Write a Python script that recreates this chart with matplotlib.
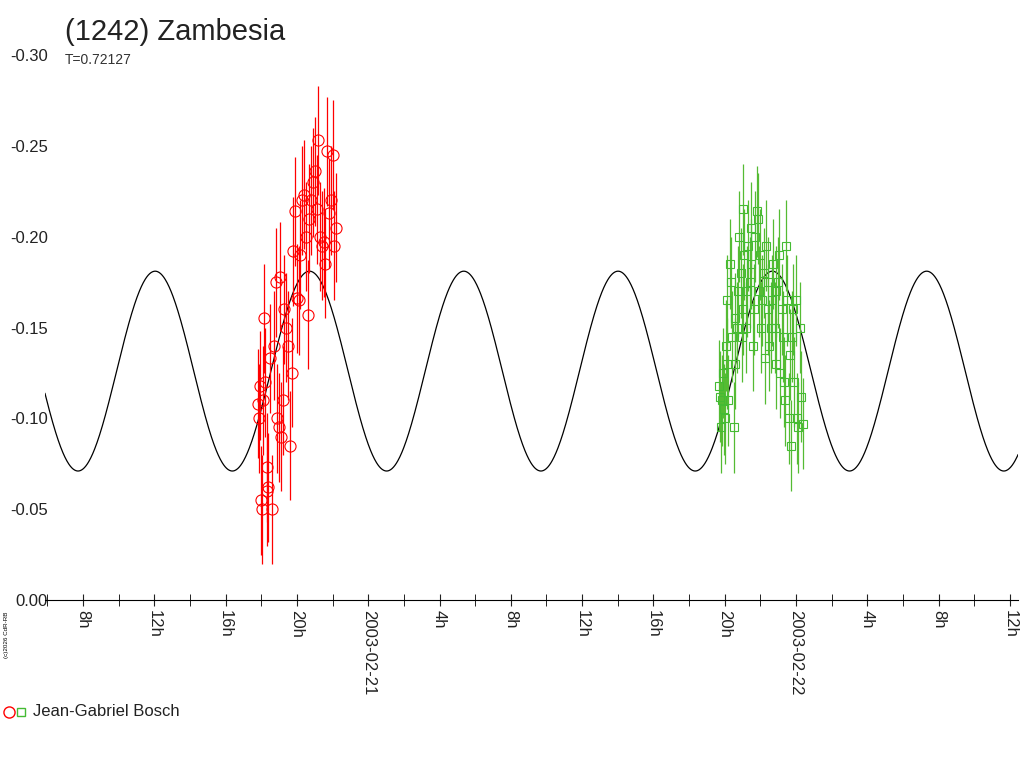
import numpy as np
import matplotlib
matplotlib.use("Agg")
import matplotlib.pyplot as plt
from matplotlib.ticker import FixedLocator, FuncFormatter
from matplotlib.lines import Line2D

plt.rcParams['font.family'] = ['Liberation Sans', 'DejaVu Sans']

# hours since 2003-02-20 00:00 UT
red_t = [17.84,17.9,17.95,18.0,18.05,18.1,18.15,18.2,18.3,18.35,18.4,18.5,18.6,18.7,18.8,18.9,19.0,19.05,
         19.1,19.2,19.3,19.4,19.5,19.6,19.7,19.8,19.9,20.0,20.1,20.2,20.3,20.4,20.5,20.6,20.7,20.8,20.9,
         21.0,21.1,21.2,21.3,21.4,21.5,21.6,21.7,21.8,21.9,22.0,22.1,22.2]
red_y = [-0.108,-0.100,-0.118,-0.055,-0.050,-0.110,-0.155,-0.120,-0.060,-0.073,-0.062,-0.133,-0.050,-0.140,
         -0.175,-0.100,-0.095,-0.178,-0.090,-0.110,-0.160,-0.150,-0.140,-0.085,-0.125,-0.192,-0.214,-0.166,
         -0.165,-0.190,-0.220,-0.223,-0.200,-0.157,-0.210,-0.220,-0.230,-0.236,-0.215,-0.253,-0.200,-0.195,
         -0.197,-0.185,-0.247,-0.213,-0.220,-0.245,-0.195,-0.205]
red_e = 0.03

grn_t = [43.70,43.75,43.8,43.85,43.9,43.95,44.0,44.05,44.1,44.15,44.2,44.3,44.35,44.4,44.5,44.55,44.6,44.7,
         44.75,44.8,44.9,44.95,45.0,45.05,45.1,45.2,45.25,45.3,45.4,45.45,45.5,45.6,45.65,45.7,45.8,45.85,
         45.9,46.0,46.05,46.1,46.2,46.25,46.3,46.4,46.45,46.5,46.6,46.65,46.7,46.8,46.85,46.9,47.0,47.05,
         47.1,47.2,47.25,47.3,47.4,47.45,47.5,47.6,47.65,47.7,47.8,47.85,47.9,48.0,48.05,48.1,48.2,48.3,48.4]
grn_y = [-0.118,-0.112,-0.095,-0.110,-0.125,-0.105,-0.100,-0.140,-0.165,-0.130,-0.110,-0.185,-0.175,-0.145,
         -0.095,-0.155,-0.130,-0.150,-0.170,-0.200,-0.180,-0.145,-0.160,-0.215,-0.190,-0.150,-0.170,-0.195,
         -0.175,-0.205,-0.185,-0.140,-0.160,-0.200,-0.214,-0.210,-0.170,-0.190,-0.150,-0.165,-0.180,-0.133,
         -0.195,-0.160,-0.175,-0.140,-0.150,-0.165,-0.185,-0.150,-0.170,-0.130,-0.175,-0.190,-0.125,-0.160,
         -0.145,-0.120,-0.110,-0.195,-0.165,-0.100,-0.135,-0.085,-0.145,-0.160,-0.120,-0.165,-0.100,-0.095,
         -0.150,-0.112,-0.097]
grn_e = 0.025

period_h = 0.72127 * 24
mean_mag, amp, t_peak = -0.126, 0.055, 12.05

fig = plt.figure(figsize=(10.24, 7.68), dpi=100)
ax = fig.add_axes([45/1024, 1-600/768, (1018-45)/1024, (600-55)/768])
t = np.linspace(5.87, 60.45, 2000)
ax.plot(t, mean_mag - amp*np.cos(4*np.pi*(t - t_peak)/period_h), color='black', lw=0.9)

ax.errorbar(red_t, red_y, yerr=red_e, fmt='o', ms=8, mfc='none', mec='red', ecolor='red', elinewidth=0.9, mew=0.8)
ax.errorbar(grn_t, grn_y, yerr=grn_e, fmt='s', ms=6, mfc='none', mec='#44bb33', ecolor='#55bb33', elinewidth=0.9, mew=0.8)

ax.set_xlim(5.87, 60.45)
ax.set_ylim(0, -0.30)
ax.set_yticks([0, -0.05, -0.10, -0.15, -0.20, -0.25, -0.30])
ax.yaxis.set_major_formatter(FuncFormatter(lambda v, p: f"{v:.2f}" if abs(v) > 1e-9 else "0.00"))
majors = list(range(8, 61, 4))
def xl(v, p):
    h = int(round(v)) % 24
    if h == 0:
        return "2003-02-%02d" % (20 + int(round(v)) // 24)
    return f"{h}h"
ax.xaxis.set_major_locator(FixedLocator(majors))
ax.xaxis.set_major_formatter(FuncFormatter(xl))
ax.xaxis.set_minor_locator(FixedLocator(list(range(6, 61, 2))))
ax.tick_params(axis='x', which='major', rotation=-90, labelsize=12, length=8, direction='inout', colors='#222222')
ax.tick_params(axis='x', which='minor', length=8, direction='inout')
ax.tick_params(axis='y', labelsize=12, length=0, pad=-2, colors='#222222')
for s in ['top', 'right', 'left']:
    ax.spines[s].set_visible(False)

fig.text(65/1024, 1-32/768, "(1242) Zambesia", fontsize=21, va='center', color='#222222')
fig.text(65/1024, 1-60/768, "T=0.72127", fontsize=10, va='center', color='#333333')
fig.text(4/1024, 1-635/768, "(c)2026 CdR-RB", fontsize=4.5, rotation=90, va='center')
fig.add_artist(Line2D([9/1024], [1-712/768], marker='o', ms=8, mfc='none', mec='red', ls='none', transform=fig.transFigure))
fig.add_artist(Line2D([21/1024], [1-712/768], marker='s', ms=6, mfc='none', mec='#44bb33', ls='none', transform=fig.transFigure))
fig.text(33/1024, 1-712/768, "Jean-Gabriel Bosch", fontsize=12, va='center', color='#222222')
fig.savefig("out.png", dpi=100)
